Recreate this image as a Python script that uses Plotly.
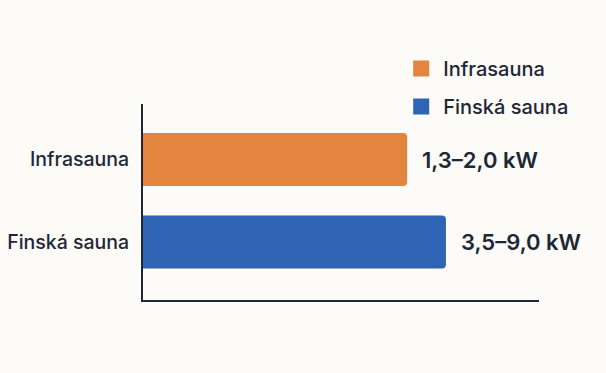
import plotly.graph_objects as go

categories = ["Infrasauna", "Finská sauna"]
bar_length = [66.7, 76.5]          # relative bar length (% of axis)
value_labels = ["1,3–2,0 kW", "3,5–9,0 kW"]
colors = ["#E3843F", "#2F63B4"]

TEXT = "#1E2736"
FONT = "Inter"
BG = "#FCFBF8"

fig = go.Figure()
for i, cat in enumerate(categories):
    fig.add_trace(go.Bar(
        x=[bar_length[i]], y=[cat], orientation="h",
        name=cat, legendgroup=cat, showlegend=False,
        marker=dict(color=colors[i], line=dict(width=0)),
        width=0.64,
        hoverinfo="skip",
    ))
    # legend entry with larger square symbol
    fig.add_trace(go.Scatter(
        x=[None], y=[None], mode="markers", name=cat, legendgroup=cat,
        marker=dict(symbol="square", size=19, color=colors[i]),
    ))
    fig.add_annotation(
        x=bar_length[i], y=cat, xref="x", yref="y",
        text=value_labels[i], showarrow=False,
        xanchor="left", yanchor="middle", xshift=13,
        font=dict(family=FONT, size=22, color=TEXT, weight=600),
    )

fig.update_layout(
    width=606, height=373,
    margin=dict(l=143, r=67, t=104, b=73, autoexpand=False),
    paper_bgcolor=BG, plot_bgcolor=BG,
    barmode="overlay",
    barcornerradius=4,
    font=dict(family=FONT, color=TEXT, size=18),
    showlegend=True,
    legend=dict(
        x=0.647, y=1.28, xanchor="left", yanchor="top",
        font=dict(family=FONT, size=20, color=TEXT, weight=500),
        bgcolor="rgba(0,0,0,0)", itemwidth=34,
        traceorder="grouped", tracegroupgap=9,
    ),
    xaxis=dict(
        range=[0, 100], showgrid=False, zeroline=False,
        showticklabels=False, ticks="", automargin=False,
        showline=True, linecolor="#1E2736", linewidth=2,
    ),
    yaxis=dict(
        type="category", categoryorder="array", categoryarray=categories,
        range=[1.703, -0.673], showgrid=False, zeroline=False,
        showline=True, linecolor="#1E2736", linewidth=2,
        ticks="", ticklabelstandoff=8, automargin=False,
        tickfont=dict(family=FONT, size=19.5, color=TEXT, weight=500),
    ),
)

fig.write_html("out.html", config={"displayModeBar": False},
               post_script="document.body.style.margin='0';")
